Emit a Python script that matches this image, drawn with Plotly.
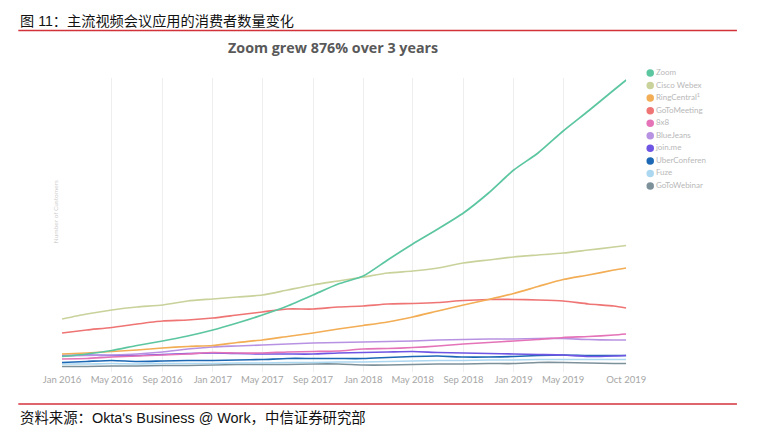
import plotly.graph_objects as go

# ---- data (index units) ----
months = ["2016-01-01", "2016-03-01", "2016-05-01", "2016-07-01", "2016-09-01", "2016-11-01",
          "2017-01-01", "2017-03-01", "2017-05-01", "2017-07-01", "2017-09-01", "2017-11-01",
          "2018-01-01", "2018-03-01", "2018-05-01", "2018-07-01", "2018-09-01", "2018-11-01",
          "2019-01-01", "2019-03-01", "2019-05-01", "2019-07-01", "2019-09-01", "2019-10-01"]

zoom = [15.5, 18, 21.5, 26.5, 31, 36, 42, 49, 57, 66, 77, 88, 96, 112, 128, 143, 159, 179, 202, 219, 241, 261, 282, 292]
webex = [53, 58, 62, 65, 67, 71, 73, 75, 77, 82, 87, 91, 95, 99, 101, 104, 109, 112, 115, 117, 119, 122, 125, 126.5]
ringcentral = [18, 19, 20.5, 22, 24, 25.5, 26.5, 29.5, 32, 35.5, 39, 43, 46.5, 50, 55, 61, 67, 72.5, 78.5, 85.5, 92.5, 97, 102, 104]
gotomeeting = [39, 42, 44.5, 48, 51, 52, 54, 57, 60, 63, 63, 65, 66, 68, 68.5, 69.5, 71.5, 72.5, 72.5, 72, 71, 68, 66, 64]
eightxeight = [13, 13.5, 15, 16, 17, 18, 19.5, 19, 19, 20, 20.5, 21, 23, 23.5, 24.5, 26, 28, 29.5, 31, 32.5, 34.5, 35.5, 37, 38]
bluejeans = [16, 16.5, 17, 18, 20, 23, 25, 26, 27, 28, 29, 29.5, 30, 30.5, 31, 32, 32.5, 33, 33, 33.5, 33.5, 32.5, 32, 32]
joinme = [16.5, 17, 16.5, 16.5, 17.5, 18.5, 19, 18.5, 18, 18, 18, 19, 19.5, 20, 20.5, 19.5, 19, 18.5, 18, 17.5, 17, 15.5, 16, 16.5]
uberconference = [9.5, 10.5, 11.5, 10.5, 11, 11.5, 11.5, 12, 12.5, 13.5, 13.5, 13.5, 13.5, 14.5, 15.5, 16, 15, 15, 15.5, 16.5, 17, 16.5, 16.5, 16.5]
fuze = [8, 8, 8.5, 8, 8.5, 8.5, 8.5, 9, 9, 9.5, 9.5, 10, 10, 10.5, 11, 11.5, 11.5, 12, 12, 12.5, 12.5, 12.5, 12.5, 12.5]
gotowebinar = [5.5, 5.5, 6, 6, 6.5, 6.5, 7, 7.5, 7.5, 7.5, 8, 8, 7, 7, 7.5, 8, 8, 8.5, 8.5, 9.5, 9.5, 9, 8.5, 8.5]

series_names = ["Zoom", "Cisco Webex", "RingCentral<sup>1</sup>", "GoToMeeting", "8x8", "BlueJeans",
                "join.me", "UberConferen", "Fuze", "GoToWebinar"]
series_values = [zoom, webex, ringcentral, gotomeeting, eightxeight, bluejeans,
                 joinme, uberconference, fuze, gotowebinar]
series_colors = ["#5cc6a0", "#c9d29b", "#f2ad55", "#ef7474", "#e473b8", "#b892e2",
                 "#6f55e3", "#1d68b4", "#acd7f1", "#7d919b"]

tick_dates = ["2016-01-01", "2016-05-01", "2016-09-01", "2017-01-01", "2017-05-01", "2017-09-01",
              "2018-01-01", "2018-05-01", "2018-09-01", "2019-01-01", "2019-05-01", "2019-10-01"]
tick_labels = ["Jan 2016", "May 2016", "Sep 2016", "Jan 2017", "May 2017", "Sep 2017",
               "Jan 2018", "May 2018", "Sep 2018", "Jan 2019", "May 2019", "Oct 2019"]

header = "图 11：主流视频会议应用的消费者数量变化"
chart_title = "Zoom grew 876% over 3 years"
source = "资料来源：Okta's Business @ Work，中信证券研究部"

# ---- layout geometry (page pixels; page body has an 8px margin) ----
OFF = 8
W, H = 765 - OFF, 445 - OFF
PLOT_L, PLOT_R = 62, 643          # page x of Jan 2016 / Oct 2019
PAPER_TOP, PAPER_BOT = 40, 372    # page y
L = PLOT_L - OFF
R = 10
T = PAPER_TOP - OFF
B = H - (PAPER_BOT - OFF)
PW = W - L - R
PH = H - T - B


def fx(px):
    return (px - OFF - L) / PW


def fy(py):
    return (PAPER_BOT - py) / PH


fig = go.Figure()

# draw lines in reverse so Zoom ends up on top
for name, vals, col in reversed(list(zip(series_names, series_values, series_colors))):
    fig.add_trace(go.Scatter(
        x=months, y=vals, mode="lines", name=name, showlegend=False,
        line=dict(color=col, width=1.7, shape="spline", smoothing=0.6),
        xaxis="x", yaxis="y", hoverinfo="skip"))

# custom legend drawn on an auxiliary axis
fig.add_trace(go.Scatter(
    x=[0.1] * len(series_names), y=list(range(len(series_names))),
    mode="markers+text", text=series_names, textposition="middle right",
    marker=dict(color=series_colors, size=7.5, symbol="circle"),
    textfont=dict(family="Lato, Open Sans, sans-serif", size=8, color="#b8b8b8"),
    showlegend=False, xaxis="x2", yaxis="y2", hoverinfo="skip", cliponaxis=False))

main_top = fy(78)
fig.update_layout(
    width=W, height=H,
    margin=dict(l=L, r=R, t=T, b=B, pad=0),
    paper_bgcolor="white", plot_bgcolor="white",
    showlegend=False,
    xaxis=dict(domain=[0, fx(PLOT_R)], type="date",
               range=["2016-01-01", "2019-10-01"],
               tickvals=tick_dates, ticktext=tick_labels,
               showgrid=True, gridcolor="#eeeeee", gridwidth=1,
               zeroline=False, showline=False, ticks="",
               tickfont=dict(family="Lato, Open Sans, sans-serif", size=9.5, color="#a6a6a6")),
    yaxis=dict(domain=[0, main_top], range=[0, 294], visible=False),
    xaxis2=dict(domain=[fx(658), 1.0], range=[0, 1], visible=False, anchor="y2"),
    yaxis2=dict(domain=[fy(200), fy(60)], range=[10.115, -1.035], visible=False, anchor="x2"),
)

annotations = [
    dict(text=header, xref="paper", yref="paper", x=fx(17), y=fy(21), xanchor="left", yanchor="middle",
         showarrow=False, font=dict(family="Liberation Sans, Noto Sans CJK SC, sans-serif", size=14.2, color="#111111")),
    dict(text="<b>" + chart_title + "</b>", xref="paper", yref="paper", x=fx(341), y=fy(48),
         xanchor="center", yanchor="middle", showarrow=False,
         font=dict(family="Open Sans, sans-serif", size=14.3, color="#595959")),
    dict(text="Number of Customers", xref="paper", yref="paper", x=fx(55), y=fy(212),
         xanchor="center", yanchor="middle", textangle=-90, showarrow=False,
         font=dict(family="Lato, sans-serif", size=6.5, color="#cfcfcf")),
    dict(text=source, xref="paper", yref="paper", x=fx(17), y=fy(418), xanchor="left", yanchor="middle",
         showarrow=False, font=dict(family="Liberation Sans, Noto Sans CJK SC, sans-serif", size=14.4, color="#111111")),
]
fig.update_layout(annotations=annotations)

fig.update_layout(shapes=[
    dict(type="line", xref="paper", yref="paper", x0=fx(17), x1=fx(757), y0=fy(30.5), y1=fy(30.5),
         line=dict(color="#d2323a", width=1.3)),
    dict(type="line", xref="paper", yref="paper", x0=fx(17), x1=fx(757), y0=fy(404), y1=fy(404),
         line=dict(color="#d2323a", width=1.3)),
])

fig.write_html("out.html")
